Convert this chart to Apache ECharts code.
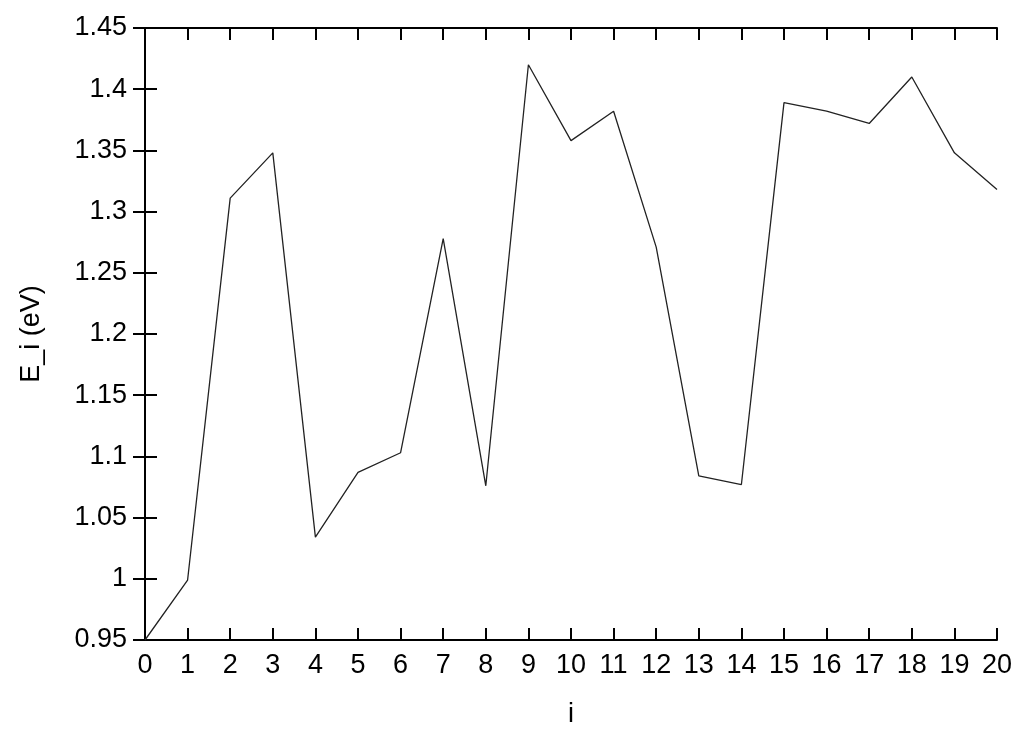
<!DOCTYPE html>
<html>
<head>
<meta charset="utf-8">
<script src="https://cdn.jsdelivr.net/npm/echarts@6/dist/echarts.min.js"></script>
<style>
  html, body { margin: 0; padding: 0; background: #fff; }
  #main { width: 1024px; height: 730px; }
</style>
</head>
<body>
<div id="main"></div>
<script>
// index i and energy E_i
const idx = [0, 1, 2, 3, 4, 5, 6, 7, 8, 9, 10, 11, 12, 13, 14, 15, 16, 17, 18, 19, 20]
const energy = [0.95, 0.999, 1.311, 1.348, 1.034, 1.087, 1.103, 1.278, 1.076, 1.420,
  1.358, 1.382, 1.271, 1.084, 1.077, 1.389, 1.382, 1.372, 1.410, 1.348, 1.318]

const font = 'Liberation Sans'
const fsize = 27
const points = idx.map((x, k) => [x, energy[k]])

var myChart = echarts.init(document.getElementById('main'))

// shared look for the boxed gnuplot style axes
const frameLine = { show: true, lineStyle: { color: '#000', width: 2 } }
const inTick = { show: true, inside: true, length: 12, lineStyle: { color: '#000', width: 2 } }

var option = {
  animation: false,
  backgroundColor: '#fff',
  grid: { left: 145, right: 27, top: 28, bottom: 90, outerBoundsMode: 'none' },
  xAxis: [
    {
      type: 'value',
      min: 0,
      max: 20,
      interval: 1,
      name: 'i',
      nameLocation: 'middle',
      nameGap: 61,
      nameTextStyle: { fontFamily: font, fontSize: fsize, color: '#000' },
      axisLine: frameLine,
      axisTick: inTick,
      splitLine: { show: false },
      axisLabel: { fontFamily: font, fontSize: fsize, color: '#000', margin: 12 },
    },
    {
      type: 'value',
      position: 'top',
      min: 0,
      max: 20,
      interval: 1,
      axisLine: frameLine,
      axisTick: inTick,
      splitLine: { show: false },
      axisLabel: { show: false },
    },
  ],
  yAxis: [
    {
      type: 'value',
      min: 0.95,
      max: 1.45,
      interval: 0.05,
      name: 'E_i (eV)',
      nameLocation: 'middle',
      nameGap: 100,
      nameTextStyle: { fontFamily: font, fontSize: fsize, color: '#000' },
      axisLine: frameLine,
      axisTick: inTick,
      splitLine: { show: false },
      axisLabel: {
        fontFamily: font,
        fontSize: fsize,
        color: '#000',
        margin: 18,
        formatter: function (v) {
          return String(+v.toFixed(2))
        },
      },
    },
    {
      type: 'value',
      position: 'right',
      min: 0.95,
      max: 1.45,
      interval: 0.05,
      axisLine: frameLine,
      axisTick: inTick,
      splitLine: { show: false },
      axisLabel: { show: false },
    },
  ],
  series: [
    {
      type: 'line',
      data: points,
      symbol: 'none',
      lineStyle: { color: '#222', width: 1.3 },
    },
  ],
}
option && myChart.setOption(option)
</script>
</body>
</html>
